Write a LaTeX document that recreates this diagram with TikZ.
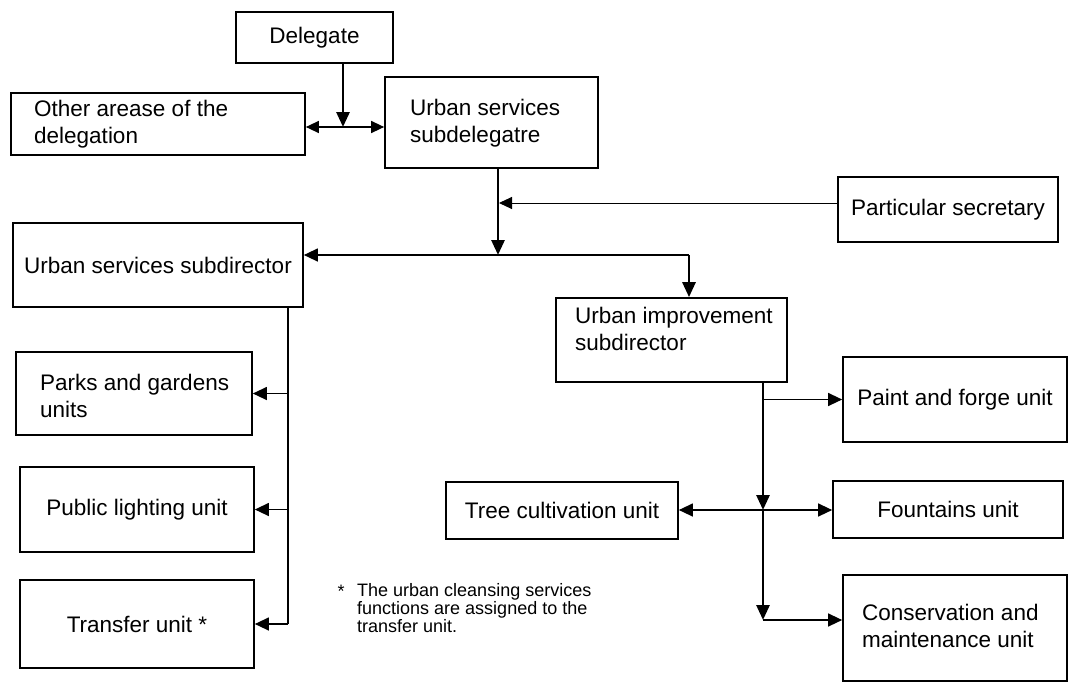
\documentclass[tikz,border=0pt]{standalone}
\usepackage{fontspec}
\setmainfont{Liberation Sans}
\usetikzlibrary{arrows.meta}
\begin{document}
\begin{tikzpicture}[x=1pt,y=-1pt,
  box/.style={draw, line width=1.7pt, rectangle, inner sep=0pt},
  lbl/.style={font=\fontsize{22.5}{27}\selectfont, inner sep=0pt, align=left},
  note/.style={font=\fontsize{18}{16.5}\selectfont, inner sep=0pt, align=left},
  trunk/.style={line width=2.8pt},
  trunkarrow/.style={line width=2.8pt, -{Triangle[length=15pt,width=13pt]}},
  branch/.style={line width=1.3pt, -{Triangle[length=14pt,width=13pt]}},
  twoway/.style={line width=1.3pt, {Triangle[length=13pt,width=12pt]}-{Triangle[length=13pt,width=12pt]}},
  feed/.style={line width=1pt, -{Triangle[length=13pt,width=12pt]}}
]
\fill[white] (0,0) rectangle (1073,683);
\useasboundingbox (0,0) rectangle (1073,683);

% boxes
\node[box, minimum width=157pt, minimum height=51pt] (dlg) at (314.5,37.5) {};
\node[box, minimum width=294pt, minimum height=62pt] (oth) at (158,124) {};
\node[box, minimum width=213pt, minimum height=91pt] (sdg) at (491.5,122.5) {};
\node[box, minimum width=220pt, minimum height=65pt] (sec) at (948,209.5) {};
\node[box, minimum width=290pt, minimum height=84pt] (sdr) at (158,265) {};
\node[box, minimum width=231pt, minimum height=84pt] (imp) at (671.5,340) {};
\node[box, minimum width=236pt, minimum height=83pt] (prk) at (134,393.5) {};
\node[box, minimum width=234pt, minimum height=85pt] (pub) at (137,509.5) {};
\node[box, minimum width=234pt, minimum height=88pt] (trf) at (137,624) {};
\node[box, minimum width=224pt, minimum height=85pt] (pnt) at (955,399.5) {};
\node[box, minimum width=232pt, minimum height=57pt] (tre) at (562,510.5) {};
\node[box, minimum width=230pt, minimum height=57pt] (fnt) at (948,509.5) {};
\node[box, minimum width=224pt, minimum height=106pt] (con) at (955,628) {};

% labels
\node[lbl] (dlg-t) at (dlg) {Delegate};
\node[lbl, anchor=west] (oth-t) at (34,124) {Other arease of the\\delegation};
\node[lbl, anchor=west] (sdg-t) at (410,123) {Urban services\\subdelegatre};
\node[lbl] (sec-t) at (sec) {Particular secretary};
\node[lbl] (sdr-t) at (sdr) {Urban services subdirector};
\node[lbl, anchor=west] (imp-t) at (575,329) {Urban improvement\\subdirector};
\node[lbl, anchor=west] (prk-t) at (40,396) {Parks and gardens\\units};
\node[lbl] (pub-t) at (pub) {Public lighting unit};
\node[lbl] (trf-t) at (trf) {Transfer unit *};
\node[lbl] (pnt-t) at (pnt) {Paint and forge unit};
\node[lbl] (tre-t) at (tre) {Tree cultivation unit};
\node[lbl] (fnt-t) at (fnt) {Fountains unit};
\node[lbl, anchor=west] (con-t) at (862,626) {Conservation and\\maintenance unit};

% footnote
\node[note] (fn-star) at (341,591) {*};
\node[note, anchor=west] (fn-t) at (357,608) {The urban cleansing services\\functions are assigned to the\\transfer unit.};

% delegate to the subdelegate and the other areas
\coordinate (j1) at (343,127);
\draw[trunkarrow] (dlg.south -| j1) -- (j1);
\draw[twoway] (oth.east |- j1) -- (sdg.west |- j1);

% subdelegate down to the subdirectors
\coordinate (j2) at (498,255);
\coordinate (s1) at (499,203);
\draw[trunkarrow] (sdg.south -| j2) -- (j2);
\draw[feed] (sec.west |- s1) -- (s1);
\coordinate (j3) at (689,255);
\draw[branch] (j3) -- (sdr.east |- j3);
\draw[trunkarrow] (j3) -- (imp.north -| j3);

% urban services units
\coordinate (lx) at (288,0);
\draw[trunk] (sdr.south -| lx) -- (lx |- trf.east);
\draw[branch] (lx |- prk.east) -- (prk.east);
\draw[branch] (lx |- pub.east) -- (pub.east);
\draw[branch] (lx |- trf.east) -- (trf.east);

% urban improvement units
\coordinate (rx) at (763,0);
\coordinate (r1) at (763,510);
\coordinate (r2) at (763,620);
\draw[trunkarrow] (imp.south -| rx) -- (r1);
\draw[trunkarrow] (r1) -- (r2);
\draw[branch] (rx |- pnt.west) -- (pnt.west);
\draw[branch] (r1) -- (tre.east |- r1);
\draw[branch] (r1) -- (fnt.west |- r1);
\draw[branch] (r2) -- (con.west |- r2);
\end{tikzpicture}
\end{document}
